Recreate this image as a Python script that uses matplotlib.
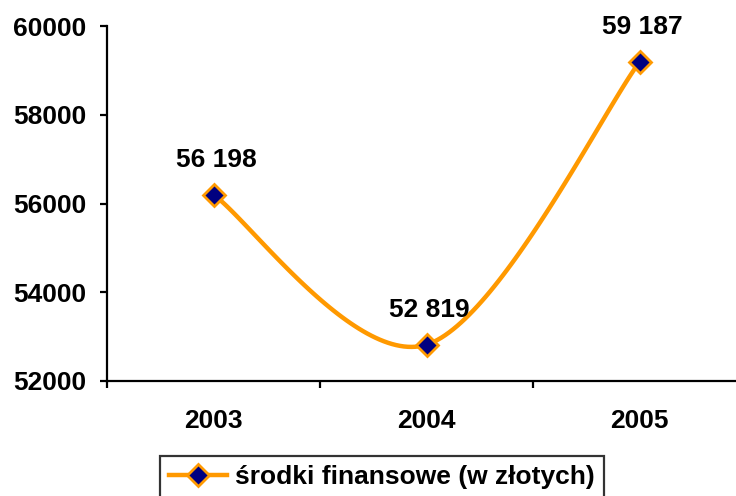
import numpy as np
import matplotlib.pyplot as plt

years = ["2003", "2004", "2005"]
values = [56198, 52819, 59187]
labels = ["56 198", "52 819", "59 187"]
y_ticks = [52000, 54000, 56000, 58000, 60000]
series_name = "środki finansowe (w złotych)"

ORANGE = "#FF9900"
NAVY = "#000080"

plt.rcParams["font.family"] = ["Liberation Sans", "DejaVu Sans"]
plt.rcParams["font.weight"] = "bold"


def smooth_curve(xs, ys, w_px, h_px, xlim, ylim, n=60):
    """Excel-style smoothed line: Catmull-Rom Bezier computed in pixel space."""
    px = (np.asarray(xs, float) - xlim[0]) / (xlim[1] - xlim[0]) * w_px
    py = (np.asarray(ys, float) - ylim[0]) / (ylim[1] - ylim[0]) * h_px
    pts = np.column_stack([px, py])
    ext = np.vstack([pts[0], pts, pts[-1]])
    out = []
    t = np.linspace(0, 1, n)[:, None]
    for i in range(len(pts) - 1):
        p0, p1, p2, p3 = ext[i], ext[i + 1], ext[i + 2], ext[i + 3]
        c1 = p1 + (p2 - p0) / 6
        c2 = p2 - (p3 - p1) / 6
        seg = ((1 - t) ** 3) * p1 + 3 * ((1 - t) ** 2) * t * c1 \
            + 3 * (1 - t) * t ** 2 * c2 + t ** 3 * p2
        out.append(seg if i == 0 else seg[1:])
    curve = np.vstack(out)
    cx = curve[:, 0] / w_px * (xlim[1] - xlim[0]) + xlim[0]
    cy = curve[:, 1] / h_px * (ylim[1] - ylim[0]) + ylim[0]
    return cx, cy


fig = plt.figure(figsize=(7.36, 4.96), dpi=100)
ax = fig.add_axes([107 / 736, 115 / 496, 639 / 736, 355 / 496])

xlim = (-0.5, 2.5)
ylim = (52000, 60000)
x = np.arange(len(years))

cx, cy = smooth_curve(x, values, 639, 355, xlim, ylim)
ax.plot(cx, cy, color=ORANGE, linewidth=3.2, solid_capstyle="round", zorder=2)
ax.plot(x, values, linestyle="none", marker="D", markersize=11,
        markerfacecolor=NAVY, markeredgecolor=ORANGE, markeredgewidth=2,
        zorder=3, clip_on=False)
# legend proxy
ax.plot([], [], color=ORANGE, linewidth=3.2, marker="D", markersize=11,
        markerfacecolor=NAVY, markeredgecolor=ORANGE, markeredgewidth=2,
        label=series_name)

for xi, v, lab in zip(x, values, labels):
    ax.annotate(lab, (xi, v), xytext=(2, 25), textcoords="offset points",
                ha="center", va="center", fontsize=19, fontweight="bold")

ax.set_xlim(*xlim)
ax.set_ylim(*ylim)
ax.set_yticks(y_ticks)
ax.set_yticklabels([str(t) for t in y_ticks])
ax.set_xticks(x)
ax.set_xticklabels(years)
ax.set_xticks([-0.5, 0.5, 1.5, 2.5], minor=True)

for side in ("top", "right"):
    ax.spines[side].set_visible(False)
for side in ("left", "bottom"):
    ax.spines[side].set_linewidth(1.6)

ax.tick_params(axis="y", direction="out", length=5, width=1.6, pad=10,
               labelsize=19)
ax.tick_params(axis="x", which="major", length=0, pad=20, labelsize=19)
ax.tick_params(axis="x", which="minor", direction="out", length=5, width=1.6)
for lab in ax.get_xticklabels() + ax.get_yticklabels():
    lab.set_fontweight("bold")

leg = fig.legend(loc="upper left", bbox_to_anchor=(160 / 736, 1 - 456 / 496),
                 frameon=True, fancybox=False, edgecolor="black",
                 prop={"size": 19, "weight": "bold"}, handlelength=2.2,
                 handletextpad=0.3, borderpad=0.35, borderaxespad=0)
leg.get_frame().set_linewidth(1.6)

fig.savefig("out.png", dpi=100)
